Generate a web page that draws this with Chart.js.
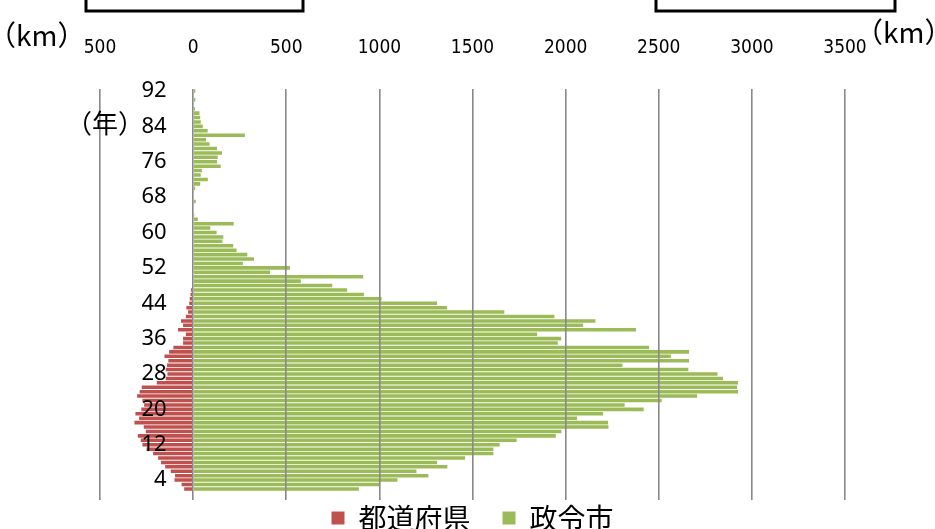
<!DOCTYPE html>
<html>
<head>
<meta charset="utf-8">
<script src="https://cdn.jsdelivr.net/npm/chart.js@4.4.1/dist/chart.umd.min.js"></script>
<style>
  html, body { margin: 0; padding: 0; background: #fff; }
  #wrap { width: 935px; height: 529px; }
</style>
</head>
<body>
<div id="wrap"><canvas id="chart"></canvas></div>
<script>
// 経過年数 (0..92)
const years = [
  0, 1, 2, 3, 4, 5, 6, 7, 8, 9, 10, 11, 12, 13, 14, 15, 16, 17, 18, 19,
  20, 21, 22, 23, 24, 25, 26, 27, 28, 29, 30, 31, 32, 33, 34, 35, 36, 37, 38, 39,
  40, 41, 42, 43, 44, 45, 46, 47, 48, 49, 50, 51, 52, 53, 54, 55, 56, 57, 58, 59,
  60, 61, 62, 63, 64, 65, 66, 67, 68, 69, 70, 71, 72, 73, 74, 75, 76, 77, 78, 79,
  80, 81, 82, 83, 84, 85, 86, 87, 88, 89, 90, 91, 92
];

// 都道府県 (km) - drawn to the left of 0
const prefKm = [
  0, 0, 48, 62, 100, 97, 120, 150, 172, 188, 215, 250, 272, 281, 297, 254, 265, 315, 290, 310,
  278, 263, 272, 301, 287, 276, 195, 147, 138, 147, 140, 133, 154, 129, 106, 54, 54, 39, 81, 54,
  65, 39, 27, 36, 21, 18, 14, 11, 6, 0, 0, 0, 0, 0, 0, 0, 0, 0, 0, 0,
  0, 0, 0, 0, 0, 0, 0, 0, 0, 0, 0, 0, 0, 0, 0, 0, 0, 0, 0, 0,
  0, 0, 0, 0, 0, 0, 0, 0, 0, 0, 0, 0, 0
];

// 政令市 (km)
const cityKm = [
  0, 0, 890, 998, 1097, 1263, 1199, 1365, 1310, 1460, 1612, 1612, 1646, 1737, 1947, 1977, 2230, 2228, 2061, 2201,
  2419, 2317, 2516, 2706, 2926, 2921, 2926, 2845, 2815, 2659, 2305, 2663, 2565, 2663, 2448, 1958, 1976, 1847, 2378, 2094,
  2160, 1940, 1671, 1363, 1310, 1012, 917, 827, 747, 578, 913, 413, 520, 267, 327, 291, 233, 215, 157, 162,
  126, 92, 218, 25, 6, 0, 0, 14, 0, 5, 11, 38, 79, 41, 47, 148, 128, 132, 155, 128,
  88, 69, 278, 78, 52, 41, 38, 34, 10, 0, 12, 0, 12
];

const seriesNames = ['都道府県', '政令市'];
const xTicks = { min: -500, max: 3500, step: 500 };

const extras = {
  id: 'extras',
  afterDraw(chart) {
    const { ctx } = chart;
    ctx.save();
    // cropped text boxes at the top
    ctx.strokeStyle = '#000';
    ctx.lineWidth = 3;
    ctx.strokeRect(86, -10, 217, 21);
    ctx.strokeRect(656, -10, 239, 21);
    // unit labels
    ctx.fillStyle = '#000';
    ctx.textBaseline = 'middle';
    ctx.textAlign = 'left';
    ctx.font = '28px "Noto Sans CJK JP"';
    ctx.fillText('（km）', -12, 35);
    ctx.fillText('（km）', 855, 32);
    ctx.font = '26px "Noto Sans CJK JP"';
    ctx.fillText('（年）', 66, 123);
    ctx.restore();
  }
};

new Chart(document.getElementById('chart'), {
  type: 'bar',
  data: {
    labels: years,
    datasets: [
      {
        label: seriesNames[0],
        data: prefKm.map(v => -v),
        backgroundColor: '#c0504d',
        borderWidth: 0
      },
      {
        label: seriesNames[1],
        data: cityKm,
        backgroundColor: '#9bbb59',
        borderWidth: 0
      }
    ]
  },
  options: {
    indexAxis: 'y',
    responsive: true,
    maintainAspectRatio: false,
    animation: false,
    datasets: { bar: { barPercentage: 1, categoryPercentage: 0.8 } },
    layout: { padding: { top: 8, left: 100, right: 90, bottom: -13 } },
    scales: {
      x: {
        position: 'top',
        stacked: true,
        min: xTicks.min,
        max: xTicks.max,
        ticks: {
          stepSize: xTicks.step,
          padding: 29,
          color: '#000',
          font: { family: '"DejaVu Sans Condensed", "Liberation Sans", sans-serif', size: 19 },
          callback: v => Math.abs(v)
        },
        grid: { color: '#898989', lineWidth: 1.6, drawTicks: false, z: 1 },
        border: { display: false }
      },
      y: {
        position: { x: -142 },
        stacked: true,
        reverse: true,
        ticks: {
          autoSkip: false,
          z: 2,
          color: '#000',
          font: { family: '"Noto Sans", sans-serif', size: 22 },
          callback: function (v) {
            const lab = years[v];
            return lab % 8 === 4 ? String(lab) : '';
          }
        },
        grid: { display: false },
        border: { display: false }
      }
    },
    plugins: {
      legend: {
        position: 'bottom',
        labels: {
          boxWidth: 13,
          boxHeight: 13,
          padding: 4,
          color: '#000',
          font: { family: '"Noto Sans CJK JP"', size: 28, lineHeight: 1 },
          generateLabels: chart => Chart.defaults.plugins.legend.labels.generateLabels(chart)
            .map((item, i) => Object.assign(item, { text: i === 0 ? item.text + '\u3000' : item.text }))
        }
      },
      tooltip: { enabled: false }
    }
  },
  plugins: [extras]
});
</script>
</body>
</html>
